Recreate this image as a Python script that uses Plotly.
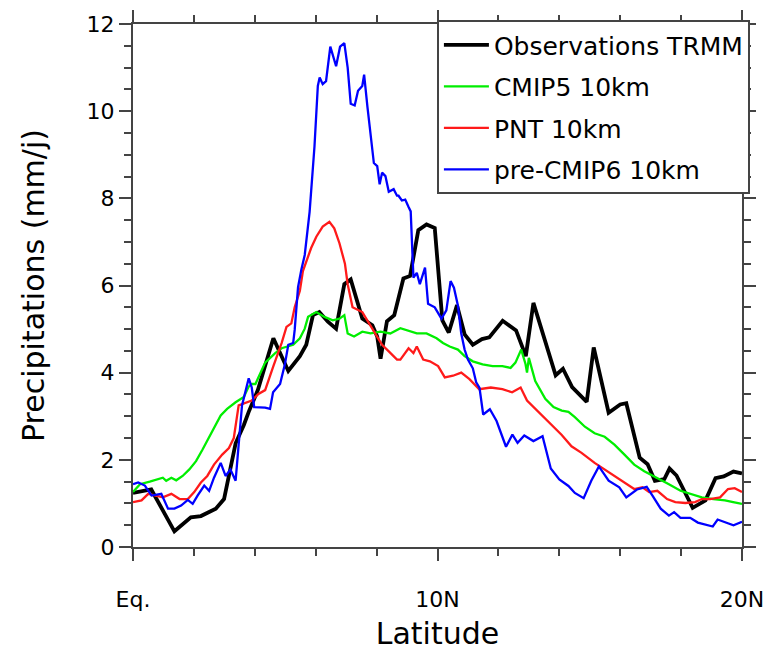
import plotly.graph_objects as go

# Observations TRMM
lat_obs = [0.0, 0.6, 1.36, 1.9, 2.23, 2.72, 2.99, 3.15, 3.37, 3.64, 3.8, 4.1, 4.61, 5.1, 5.48, 5.69,
           5.91, 6.12, 6.4, 6.67, 6.94, 7.15, 7.37, 7.53, 7.86, 8.02, 8.13, 8.34, 8.58, 8.88, 9.1,
           9.37, 9.64, 9.91, 10.16, 10.37, 10.64, 10.89, 11.16, 11.46, 11.7, 12.14, 12.58, 12.9,
           13.15, 13.88, 14.12, 14.42, 14.9, 15.13, 15.62, 16.0, 16.2, 16.64, 16.9, 17.14, 17.45,
           17.62, 17.85, 18.38, 18.8, 19.13, 19.4, 19.72, 20.0]
pr_obs = [1.24, 1.32, 0.36, 0.68, 0.71, 0.88, 1.1, 1.67, 2.38, 2.8, 3.1, 3.6, 4.79, 4.04, 4.38, 4.64,
          5.32, 5.39, 5.17, 5.01, 6.03, 6.14, 5.58, 5.24, 5.09, 4.83, 4.32, 5.18, 5.32, 6.16, 6.22,
          7.27, 7.4, 7.32, 5.2, 4.92, 5.55, 4.88, 4.64, 4.77, 4.81, 5.19, 4.97, 4.38,
          5.6, 3.94, 4.09, 3.67, 3.33, 4.58, 3.08, 3.27, 3.3, 2.05, 1.9, 1.52, 1.56,
          1.8, 1.64, 0.9, 1.07, 1.58, 1.62, 1.73, 1.69]

# CMIP5 10km
lat_cmip5 = [0.0, 0.23, 0.55, 0.82, 0.98, 1.09, 1.26, 1.42, 1.63, 1.85, 2.07, 2.28, 2.5, 2.72, 2.88,
             3.09, 3.37, 3.64, 3.8, 3.9, 4.02, 4.34, 4.67, 4.88, 5.26, 5.48, 5.64, 5.75, 6.02, 6.29,
             6.56, 6.78, 6.94, 7.05, 7.26, 7.53, 7.8, 8.13, 8.45, 8.78, 8.99, 9.32, 9.64, 9.97,
             10.18, 10.4, 10.67, 10.89, 11.16, 11.48, 11.81, 12.13, 12.4, 12.56, 12.75, 12.89,
             12.94, 13.0, 13.21, 13.54, 13.81, 14.08, 14.3, 14.51, 14.84, 15.16, 15.49, 15.81,
             16.14, 16.46, 16.79, 17.22, 17.6, 17.98, 18.3, 18.68, 19.06, 19.44, 19.71, 20.0]
pr_cmip5 = [1.26, 1.44, 1.5, 1.56, 1.59, 1.52, 1.59, 1.53, 1.63, 1.78, 1.97, 2.23, 2.53, 2.8, 3.02,
            3.17, 3.32, 3.44, 3.68, 3.74, 3.74, 4.23, 4.45, 4.56, 4.64, 4.79, 5.01, 5.28, 5.39, 5.28,
            5.2, 5.24, 5.32, 4.9, 4.83, 4.94, 4.9, 4.94, 4.9, 5.02, 4.98, 4.9, 4.9, 4.79,
            4.68, 4.6, 4.53, 4.38, 4.26, 4.19, 4.15, 4.15, 4.11, 4.23, 4.53, 4.2,
            4.0, 4.34, 3.81, 3.4, 3.21, 3.13, 3.1, 2.98, 2.76, 2.61, 2.53, 2.35,
            2.12, 1.89, 1.74, 1.59, 1.44, 1.29, 1.22, 1.14, 1.1, 1.07, 1.03, 0.99]

# PNT 10km
lat_pnt = [0.0, 0.28, 0.5, 0.77, 0.98, 1.26, 1.53, 1.8, 2.01, 2.23, 2.44, 2.66, 2.93, 3.15, 3.31,
           3.47, 3.64, 3.9, 4.12, 4.34, 4.61, 4.88, 5.04, 5.2, 5.31, 5.48, 5.58, 5.72, 5.85, 6.02,
           6.23, 6.45, 6.61, 6.78, 6.88, 6.96, 7.05, 7.21, 7.53, 7.75, 7.96, 8.18, 8.4, 8.67,
           8.78, 9.05, 9.21, 9.32, 9.53, 9.75, 10.02, 10.24, 10.51, 10.78, 11.05, 11.37, 11.75,
           12.13, 12.45, 12.73, 12.94, 13.16, 13.48, 13.81, 14.08, 14.4, 14.73, 15.16, 15.49,
           15.81, 16.14, 16.46, 16.73, 16.95, 17.22, 17.54, 17.81, 18.14, 18.46, 18.68, 18.95,
           19.28, 19.54, 19.76, 20.0]
pr_pnt = [1.03, 1.07, 1.22, 1.18, 1.14, 1.22, 1.1, 1.1, 1.26, 1.48, 1.63, 1.89, 2.12, 2.27, 2.5,
          3.25, 3.29, 3.36, 3.51, 3.6, 4.15, 4.68, 5.05, 5.13, 5.5, 5.88, 6.33, 6.6, 6.86, 7.12,
          7.35, 7.46, 7.31, 6.97, 6.71, 6.5, 6.03, 5.5, 5.39, 5.13, 4.9, 4.64, 4.49, 4.3,
          4.3, 4.56, 4.45, 4.6, 4.3, 4.26, 4.15, 3.89, 3.93, 4.0, 3.85, 3.62, 3.66,
          3.62, 3.55, 3.66, 3.36, 3.21, 2.98, 2.76, 2.57, 2.31, 2.16, 1.93, 1.78,
          1.63, 1.48, 1.33, 1.37, 1.26, 1.29, 1.1, 1.03, 1.01, 1.03, 1.1, 1.1,
          1.14, 1.33, 1.35, 1.26]

# pre-CMIP6 10km
lat_cmip6 = [0.0, 0.17, 0.39, 0.61, 0.93, 1.15, 1.36, 1.58, 1.8, 1.96, 2.12, 2.34, 2.5, 2.66, 2.88,
             3.04, 3.2, 3.37, 3.47, 3.58, 3.8, 3.9, 3.98, 4.34, 4.5, 4.6, 4.83, 4.99, 5.1, 5.26,
             5.31, 5.42, 5.53, 5.64, 5.8, 5.96, 6.07, 6.13, 6.23, 6.34, 6.48, 6.67, 6.8, 6.94,
             7.05, 7.15, 7.28, 7.39, 7.53, 7.59, 7.7, 7.8, 7.91, 8.02, 8.1, 8.18, 8.29, 8.4,
             8.56, 8.67, 8.72, 8.83, 8.94, 9.05, 9.12, 9.21, 9.32, 9.42, 9.59, 9.69, 9.91, 10.13,
             10.29, 10.43, 10.54, 10.67, 10.78, 10.89, 11.0, 11.16, 11.27, 11.38, 11.5, 11.72,
             11.94, 12.25, 12.46, 12.63, 12.85, 13.15, 13.45, 13.72, 14.0, 14.3, 14.51, 14.8,
             15.05, 15.3, 15.62, 15.97, 16.2, 16.55, 16.87, 17.06, 17.33, 17.6, 17.77, 17.98,
             18.3, 18.55, 18.9, 19.04, 19.2, 19.46, 19.72, 20.0]
pr_cmip6 = [1.44, 1.48, 1.41, 1.18, 1.22, 0.88, 0.88, 0.95, 1.08, 0.99, 1.18, 1.41, 1.29, 1.59, 1.93,
            1.63, 1.78, 1.52, 2.35, 3.25, 3.87, 3.66, 3.21, 3.2, 3.17, 3.55, 3.74, 4.2, 4.64, 4.68,
            4.98, 5.96, 6.37, 6.7, 7.69, 9.19, 10.58, 10.77, 10.62, 10.69, 11.48, 11.03, 11.48, 11.56,
            11.0, 10.17, 10.13, 10.47, 10.58, 10.84, 10.09, 9.41, 8.81, 8.74, 8.32, 8.59, 8.51, 8.15,
            8.21, 8.06, 8.06, 7.95, 7.97, 7.8, 7.7, 6.18, 6.29, 6.03, 6.41, 5.58, 5.5, 5.24,
            5.43, 6.1, 5.95, 5.54, 4.9, 4.53, 4.3, 4.1, 3.78, 3.65, 3.04, 3.16,
            2.89, 2.3, 2.58, 2.39, 2.56, 2.43, 2.54, 1.8, 1.55, 1.4, 1.24, 1.12,
            1.52, 1.85, 1.52, 1.37, 1.14, 1.32, 1.38, 1.18, 0.88, 0.72, 0.8, 0.67,
            0.67, 0.56, 0.5, 0.47, 0.63, 0.56, 0.5, 0.58]

x_tickvals = [0, 10, 20]
x_ticktext = ["Eq.", "10N", "20N"]

FONT = "DejaVu Sans"
AXC = "#444444"

fig = go.Figure()
series = [
    ("Observations TRMM", lat_obs, pr_obs, "black", 3.8),
    ("CMIP5 10km", lat_cmip5, pr_cmip5, "#00ee00", 2.3),
    ("PNT 10km", lat_pnt, pr_pnt, "#ff1a1a", 2.3),
    ("pre-CMIP6 10km", lat_cmip6, pr_cmip6, "#0000ff", 2.3),
]
for i, (name, xs, ys, col, w) in enumerate(series):
    fig.add_trace(go.Scatter(x=xs, y=ys, mode="lines", name=name, legendgroup=str(i),
                             line=dict(color=col, width=w)))
# empty trace to activate the mirrored (top/right) tick axes
fig.add_trace(go.Scatter(x=[], y=[], xaxis="x2", yaxis="y2", showlegend=False, hoverinfo="skip"))

common = dict(showgrid=False, zeroline=False, showline=True, linecolor=AXC, linewidth=2,
              ticks="outside", ticklen=12, tickwidth=2, tickcolor=AXC)

fig.update_layout(
    width=776, height=657,
    margin=dict(l=133, r=27, t=22, b=103),
    paper_bgcolor="white", plot_bgcolor="white",
    font=dict(family=FONT, color="black", size=22),
    showlegend=True,
    legend=dict(x=1.013, y=1.0075, xanchor="right", yanchor="top",
                bgcolor="white", bordercolor=AXC, borderwidth=2,
                font=dict(family=FONT, size=25, color="black"),
                tracegroupgap=6, itemwidth=45),
    xaxis=dict(range=[0, 20], tickvals=x_tickvals, ticktext=x_ticktext,
               minor=dict(dtick=2, ticks="outside", ticklen=7, tickwidth=1.5, tickcolor=AXC, showgrid=False),
               tickfont=dict(family=FONT, size=22, color="black"), ticklabelstandoff=20,
               title=dict(text="Latitude", font=dict(family=FONT, size=30, color="black"), standoff=12),
               **common),
    yaxis=dict(range=[0, 12], dtick=2, tick0=0,
               minor=dict(dtick=0.5, ticks="outside", ticklen=7, tickwidth=1.5, tickcolor=AXC, showgrid=False),
               tickfont=dict(family=FONT, size=22, color="black"),
               title=dict(text="Precipitations (mm/j)", font=dict(family=FONT, size=30, color="black"), standoff=33),
               **common),
    xaxis2=dict(range=[0, 20], tickvals=x_tickvals, overlaying="x", side="top", anchor="y",
                showticklabels=False,
                minor=dict(dtick=2, ticks="outside", ticklen=7, tickwidth=1.5, tickcolor=AXC, showgrid=False),
                **common),
    yaxis2=dict(range=[0, 12], dtick=2, tick0=0, overlaying="y", side="right", anchor="x",
                showticklabels=False,
                minor=dict(dtick=0.5, ticks="outside", ticklen=7, tickwidth=1.5, tickcolor=AXC, showgrid=False),
                **common),
)

fig.write_html("out.html")
